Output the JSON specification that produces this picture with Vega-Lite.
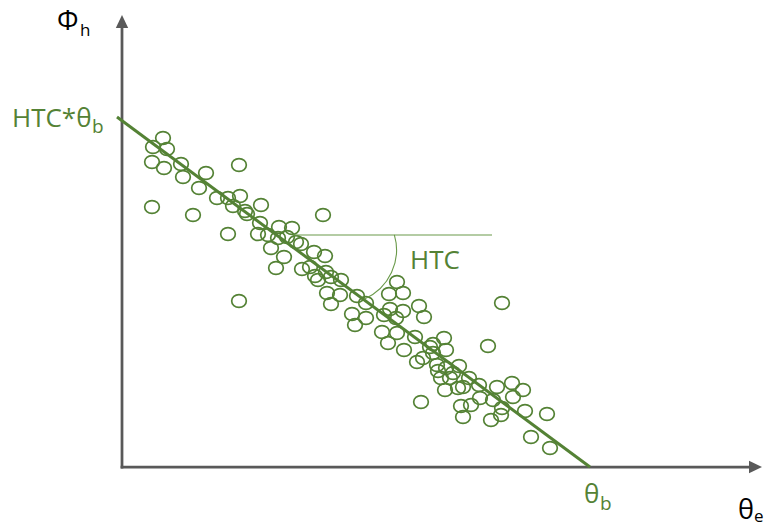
{
  "$schema": "https://vega.github.io/schema/vega-lite/v6.json",
  "width": 765,
  "height": 529,
  "autosize": {"type": "fit", "contains": "padding"},
  "padding": 0,
  "background": "white",
  "config": {"view": {"stroke": null}},
  "datasets": {
    "axes": [
      {"x": 0, "y": 0, "x2": 0, "y2": 445},
      {"x": 0, "y": 0, "x2": 632, "y2": 0}
    ],
    "heads": [
      {"x": 0, "y": 445.5, "dir": "up"},
      {"x": 633.5, "y": 0, "dir": "right"}
    ],
    "points": [
      {"x": 41, "y": 329}, {"x": 31, "y": 320}, {"x": 45, "y": 318}, {"x": 30, "y": 305},
      {"x": 42, "y": 299}, {"x": 59, "y": 303}, {"x": 61, "y": 290}, {"x": 84, "y": 294},
      {"x": 77, "y": 279}, {"x": 117, "y": 302}, {"x": 30, "y": 260}, {"x": 71, "y": 252},
      {"x": 95, "y": 269}, {"x": 106, "y": 269}, {"x": 118, "y": 271}, {"x": 111, "y": 261},
      {"x": 123, "y": 256}, {"x": 125, "y": 253}, {"x": 139, "y": 262}, {"x": 138, "y": 244},
      {"x": 136, "y": 233}, {"x": 146, "y": 232}, {"x": 157, "y": 240}, {"x": 170, "y": 239},
      {"x": 106, "y": 233}, {"x": 117, "y": 166}, {"x": 201, "y": 252}, {"x": 156, "y": 229},
      {"x": 165, "y": 230}, {"x": 174, "y": 225}, {"x": 179, "y": 223}, {"x": 149, "y": 219},
      {"x": 162, "y": 210}, {"x": 192, "y": 215}, {"x": 203, "y": 211}, {"x": 154, "y": 199},
      {"x": 180, "y": 198}, {"x": 188, "y": 200}, {"x": 193, "y": 191}, {"x": 196, "y": 187},
      {"x": 204, "y": 195}, {"x": 209, "y": 190}, {"x": 219, "y": 187}, {"x": 205, "y": 174},
      {"x": 218, "y": 172}, {"x": 209, "y": 163}, {"x": 235, "y": 171}, {"x": 230, "y": 153},
      {"x": 233, "y": 142}, {"x": 244, "y": 164}, {"x": 244, "y": 149}, {"x": 275, "y": 185},
      {"x": 267, "y": 173}, {"x": 281, "y": 174}, {"x": 268, "y": 158}, {"x": 281, "y": 156},
      {"x": 297, "y": 161}, {"x": 302, "y": 150}, {"x": 262, "y": 152}, {"x": 274, "y": 149},
      {"x": 260, "y": 135}, {"x": 275, "y": 134}, {"x": 266, "y": 124}, {"x": 282, "y": 117},
      {"x": 293, "y": 130}, {"x": 311, "y": 123}, {"x": 322, "y": 129}, {"x": 324, "y": 117},
      {"x": 295, "y": 105}, {"x": 301, "y": 109}, {"x": 308, "y": 120}, {"x": 311, "y": 114},
      {"x": 315, "y": 102}, {"x": 316, "y": 96}, {"x": 324, "y": 99}, {"x": 331, "y": 94},
      {"x": 319, "y": 89}, {"x": 328, "y": 89}, {"x": 337, "y": 101}, {"x": 323, "y": 77},
      {"x": 336, "y": 79}, {"x": 299, "y": 65}, {"x": 339, "y": 61}, {"x": 380, "y": 164},
      {"x": 366, "y": 121}, {"x": 347, "y": 89}, {"x": 357, "y": 82}, {"x": 341, "y": 80},
      {"x": 375, "y": 80}, {"x": 390, "y": 84}, {"x": 401, "y": 77}, {"x": 391, "y": 70},
      {"x": 358, "y": 69}, {"x": 349, "y": 62}, {"x": 371, "y": 67}, {"x": 380, "y": 59},
      {"x": 379, "y": 52}, {"x": 341, "y": 50}, {"x": 369, "y": 47}, {"x": 403, "y": 56},
      {"x": 425, "y": 53}, {"x": 409, "y": 30}, {"x": 428, "y": 19}
    ],
    "fit": [{"x": -5, "y": 350, "x2": 468, "y2": 0}],
    "hline": [{"x": 171, "y": 232, "x2": 370, "y2": 232}],
    "angle": [{"x": 221, "y": 217}],
    "blackMain": [
      {"x": -65, "y": 437, "label": "Φ"},
      {"x": 616, "y": -52, "label": "θ"}
    ],
    "blackSub": [
      {"x": -42, "y": 431, "label": "h"},
      {"x": 632, "y": -55, "label": "e"}
    ],
    "greenMain": [
      {"x": -110, "y": 340, "label": "HTC*θ"},
      {"x": 288, "y": 198, "label": "HTC"},
      {"x": 462, "y": -36, "label": "θ"}
    ],
    "greenSub": [
      {"x": -30, "y": 334, "label": "b"},
      {"x": 478, "y": -43, "label": "b"}
    ]
  },
  "encoding": {
    "x": {"field": "x", "type": "quantitative", "scale": {"domain": [-122, 643], "nice": false, "zero": false}, "axis": null},
    "y": {"field": "y", "type": "quantitative", "scale": {"domain": [-62, 467], "nice": false, "zero": false}, "axis": null}
  },
  "layer": [
    {
      "data": {"name": "axes"},
      "mark": {"type": "rule", "color": "#595959", "strokeWidth": 2.75, "strokeCap": "square"},
      "encoding": {"x2": {"field": "x2"}, "y2": {"field": "y2"}}
    },
    {
      "data": {"name": "heads"},
      "mark": {"type": "point", "filled": true, "color": "#595959", "opacity": 1, "size": 169},
      "encoding": {
        "shape": {"field": "dir", "type": "nominal", "scale": {"domain": ["up", "right"], "range": ["M0,-1L0.95,1L-0.95,1Z", "M1,0L-1,0.95L-1,-0.95Z"]}, "legend": null}
      }
    },
    {
      "data": {"name": "points"},
      "mark": {"type": "point", "filled": false, "stroke": "#548235", "strokeWidth": 1.7, "opacity": 1, "size": 215, "shape": "M-1,0A1,0.88,0,1,1,1,0A1,0.88,0,1,1,-1,0Z"}
    },
    {
      "data": {"name": "fit"},
      "mark": {"type": "rule", "color": "#548235", "strokeWidth": 3},
      "encoding": {"x2": {"field": "x2"}, "y2": {"field": "y2"}}
    },
    {
      "data": {"name": "hline"},
      "mark": {"type": "rule", "color": "#6a9a4a", "strokeWidth": 1.1},
      "encoding": {"x2": {"field": "x2"}, "y2": {"field": "y2"}}
    },
    {
      "data": {"name": "angle"},
      "mark": {"type": "arc", "filled": false, "fill": null, "stroke": "#6a9a4a", "strokeWidth": 1.1, "theta": 1.286, "theta2": 2.727, "radius": 53.5, "radius2": 53.5}
    },
    {
      "data": {"name": "blackMain"},
      "mark": {"type": "text", "align": "left", "baseline": "alphabetic", "font": "Open Sans", "fontSize": 27, "color": "#000000"},
      "encoding": {"text": {"field": "label"}}
    },
    {
      "data": {"name": "blackSub"},
      "mark": {"type": "text", "align": "left", "baseline": "alphabetic", "font": "Open Sans", "fontSize": 17, "color": "#000000"},
      "encoding": {"text": {"field": "label"}}
    },
    {
      "data": {"name": "greenMain"},
      "mark": {"type": "text", "align": "left", "baseline": "alphabetic", "font": "Open Sans", "fontSize": 26, "color": "#548235"},
      "encoding": {"text": {"field": "label"}}
    },
    {
      "data": {"name": "greenSub"},
      "mark": {"type": "text", "align": "left", "baseline": "alphabetic", "font": "Open Sans", "fontSize": 19, "color": "#548235"},
      "encoding": {"text": {"field": "label"}}
    }
  ]
}
